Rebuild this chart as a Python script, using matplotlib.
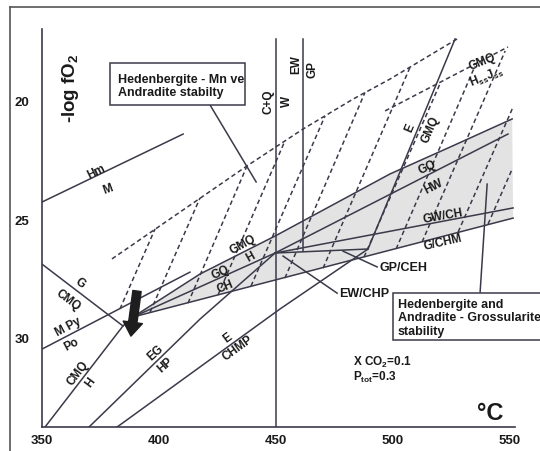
import matplotlib
matplotlib.use('Agg')
import matplotlib.pyplot as plt
from matplotlib.patches import Rectangle
from matplotlib.lines import Line2D

plt.rcParams['font.family'] = ['Liberation Sans', 'DejaVu Sans']
plt.rcParams['font.weight'] = 'bold'
plt.rcParams['mathtext.fontset'] = 'custom'
plt.rcParams['mathtext.rm'] = 'Liberation Sans:bold'
plt.rcParams['mathtext.it'] = 'Liberation Sans:bold'
plt.rcParams['mathtext.bf'] = 'Liberation Sans:bold'

# reaction lines: temperature (°C) and -log fO2
hm_m_T = [350, 410.3]
hm_m_L = [24.28, 21.40]
cq_T = [450, 450]
cq_L = [17.37, 33.81]
ewgp_T = [461.5, 461.5]
ewgp_L = [17.37, 26.36]
e_T = [382.1, 451.7, 489.3, 526.5]
e_L = [33.81, 28.81, 26.27, 17.37]
eghp_T = [370.1, 417.5, 449.6]
eghp_L = [33.81, 29.24, 26.44]
cmqh_T = [351.3, 384.6, 388.9]
cmqh_L = [33.81, 29.53, 29.15]
gcmq_T = [350, 384.6]
gcmq_L = [26.91, 29.53]
mpy_T = [350, 413.2]
mpy_L = [30.51, 27.25]
upper_T = [388.9, 417.5, 449.6, 498.7, 524.4, 550.9]
upper_L = [29.15, 27.33, 25.72, 23.09, 21.95, 20.76]
gqch_T = [388.9, 449.6]
gqch_L = [29.15, 26.44]
hw_T = [449.6, 549.1]
hw_L = [26.44, 21.40]
lower_T = [388.9, 551.3]
lower_L = [29.15, 24.96]
gwch_T = [449.6, 551.3]
gwch_L = [26.44, 24.53]
gpceh_T = [449.6, 489.3]
gpceh_L = [26.44, 26.27]

# dashed stability limits
env1_T = [379.9, 437.6, 461.5, 482.9, 498.7, 527.4]
env1_L = [26.69, 22.75, 21.19, 19.92, 19.07, 17.37]
env2_T = [496.6, 549.1]
env2_L = [20.42, 17.71]
tie_T0 = [383.3, 396.2, 412.4, 425.2, 439.3, 453.8, 470.1, 487.6, 501.3, 512.4, 527.8, 540.6]
tie_L0 = [28.81, 28.94, 28.56, 28.22, 27.84, 27.50, 27.08, 26.61, 26.27, 25.97, 25.55, 25.21]
tie_T1 = [398.3, 417.5, 437.6, 453.8, 470.9, 488.0, 507.3, 520.1, 535.0, 547.9, 550.9, 550.9]
tie_L1 = [25.42, 24.11, 22.75, 21.69, 20.64, 19.64, 18.56, 19.26, 18.52, 17.88, 20.34, 22.88]

# labels on the lines
lbl_text = ['Hm', 'M', 'C+Q', 'W', 'EW', 'GP', 'E', 'GMQ', 'GMQ', r'H$_{ss}$J$_{ss}$',
            'GQ', 'HW', 'GW/CH', 'G/CHM', 'GMQ', 'H', 'GQ', 'CH', 'G', 'CMQ',
            'M Py', 'Po', 'CMQ', 'H', 'EG', 'HP', 'E', 'CHMP']
lbl_T = [373.1, 378.2, 446.6, 454.7, 458.5, 465.4, 507.4, 515.8, 538.0, 540.2,
         514.5, 517.1, 521.4, 521.4, 435.9, 438.9, 426.1, 428.2, 366.2, 361.1,
         361.1, 362.8, 365.4, 370.5, 398.3, 402.6, 429.1, 433.8]
lbl_L = [22.97, 23.69, 20.0, 19.96, 18.43, 18.64, 21.10, 21.19, 18.31, 18.94,
         22.80, 23.60, 24.87, 25.97, 26.06, 26.57, 27.25, 27.84, 27.67, 28.39,
         29.53, 30.30, 31.48, 31.91, 30.64, 31.14, 30.00, 30.42]
lbl_rot = [26, 20, 90, 90, 90, 90, 67, 67, 22, 22,
           25, 27, 10, 13, 29, 29, 24, 22, -37, -37,
           28, 28, 53, 53, 42, 42, 36, 36]

x_ticks = [350, 400, 450, 500, 550]
y_ticks = [20, 25, 30]

lc = '#3a3a4a'
tc = '#1a1a1a'

fig = plt.figure(figsize=(5.4, 4.52), dpi=100)
ax = fig.add_axes([42 / 540, 24 / 452, 473 / 540, 398 / 452])
ax.set_xlim(350, 552.1)
ax.set_ylim(33.81, 16.95)

# shaded field
ax.fill(upper_T + lower_T[::-1], upper_L + lower_L[::-1], color='#e3e3e3', lw=0, zorder=0)

# dashed lines
dash = dict(color=lc, lw=1.1, ls=(0, (3, 2)), zorder=1)
ax.plot(env1_T, env1_L, **dash)
ax.plot(env2_T, env2_L, **dash)
for i in range(len(tie_T0)):
    ax.plot([tie_T0[i], tie_T1[i]], [tie_L0[i], tie_L1[i]], **dash)

# solid lines
solid = dict(color=lc, lw=1.1, zorder=2)
for tt, ll in [(hm_m_T, hm_m_L), (cq_T, cq_L), (ewgp_T, ewgp_L), (e_T, e_L),
               (eghp_T, eghp_L), (cmqh_T, cmqh_L), (gcmq_T, gcmq_L), (mpy_T, mpy_L),
               (upper_T, upper_L), (gqch_T, gqch_L), (hw_T, hw_L), (lower_T, lower_L),
               (gwch_T, gwch_L), (gpceh_T, gpceh_L)]:
    ax.plot(tt, ll, **solid)

for s, t, l, r in zip(lbl_text, lbl_T, lbl_L, lbl_rot):
    ax.text(t, l, s, rotation=r, rotation_mode='anchor', ha='center', va='center',
            fontsize=8.5, color=tc, zorder=4)

# leaders
ax.plot([421.8, 441.5], [20.17, 23.43], **solid)
ax.plot([537.2, 540.2], [28.09, 23.52], clip_on=False, **solid)
ax.plot([453.0, 476.1], [26.57, 28.14], **solid)
ax.plot([478.6, 493.2], [26.36, 27.03], **solid)

ax.text(477.0, 28.14, 'EW/CHP', ha='left', va='center', fontsize=9, color=tc)
ax.text(494.0, 27.03, 'GP/CEH', ha='left', va='center', fontsize=9, color=tc)

# boxes
box1 = Rectangle((379.1, 18.39), 57.7, 1.78, fc='white', ec=lc, lw=1.1, zorder=3)
ax.add_patch(box1)
t1 = ax.text(382.5, 19.34, 'Hedenbergite - Mn ve\nAndradite stabilty', ha='left', va='center',
             fontsize=9, color=tc, linespacing=1.2, zorder=4)
t1.set_clip_path(box1)

box2 = Rectangle((500.0, 28.14), 70, 1.99, fc='white', ec=lc, lw=1.1, zorder=3, clip_on=False)
ax.add_patch(box2)
ax.text(502.1, 29.17, 'Hedenbergite and\nAndradite - Grossularite\nstability', ha='left',
        va='center', fontsize=9, color=tc, linespacing=1.15, zorder=4, clip_on=False)

ax.text(482.9, 31.02, r'X CO$_2$=0.1', ha='left', va='center', fontsize=8.5, color=tc)
ax.text(482.9, 31.65, r'P$_{tot}$=0.3', ha='left', va='center', fontsize=8.5, color=tc)

# arrow
ax.annotate('', xy=(388.0, 29.96), xytext=(390.6, 28.05),
            arrowprops=dict(arrowstyle='simple,head_length=1.0,head_width=1.4,tail_width=0.6',
                            mutation_scale=10, color='#1e1e1e', shrinkA=0, shrinkB=0), zorder=5)

ax.text(362.0, 19.4, r'-log fO$_2$', rotation=90, ha='center', va='center', fontsize=13.5, color=tc)
ax.text(541.5, 33.2, '°C', ha='center', va='center', fontsize=17, color=tc)

ax.set_xticks(x_ticks)
ax.set_yticks(y_ticks)
ax.tick_params(length=0, labelsize=9.5, labelcolor=tc)
ax.tick_params(axis='x', pad=5)
ax.tick_params(axis='y', pad=9)
for lab in ax.get_xticklabels() + ax.get_yticklabels():
    lab.set_fontweight('bold')
for sp in ['top', 'right']:
    ax.spines[sp].set_visible(False)
for sp in ['left', 'bottom']:
    ax.spines[sp].set_color(lc)
    ax.spines[sp].set_linewidth(1.2)

# outer frame
fig.add_artist(Line2D([10 / 540, 1], [1 - 8 / 452, 1 - 8 / 452], color='#555555', lw=1.2))
fig.add_artist(Line2D([10 / 540, 10 / 540], [0, 1 - 8 / 452], color='#555555', lw=1.2))

fig.savefig('out.png', dpi=100)
